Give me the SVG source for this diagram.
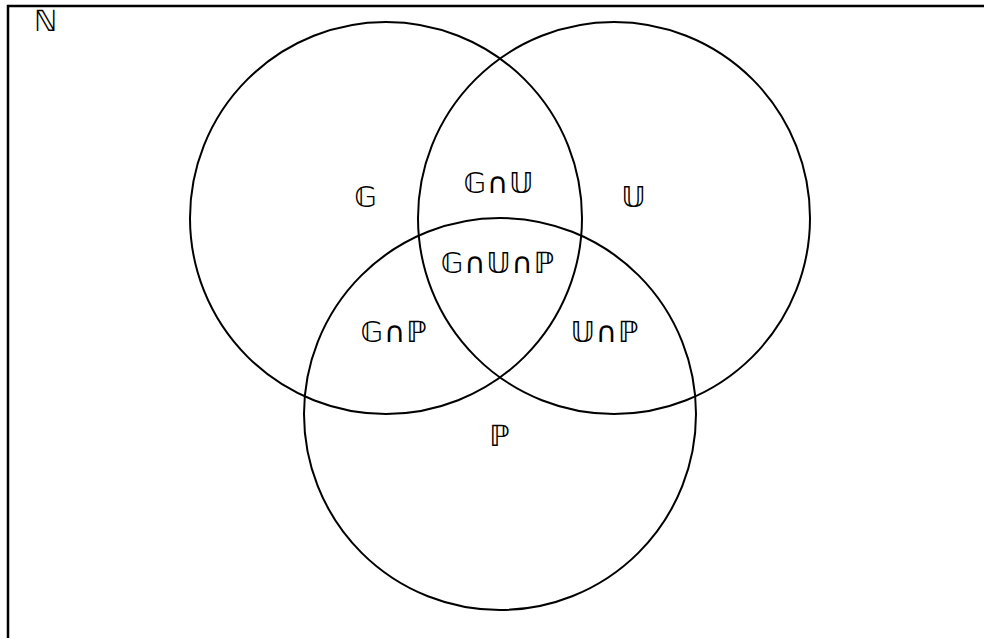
<svg xmlns="http://www.w3.org/2000/svg" width="984" height="638" viewBox="0 0 984 638">
<style>
.c{fill:none;stroke:#000;stroke-width:2}
.t{font-family:"DejaVu Sans",sans-serif;font-size:29px;fill:#000;text-anchor:middle;letter-spacing:1px}
</style>
<rect x="0" y="0" width="984" height="638" fill="#fff"/>
<rect x="8" y="6" width="1000" height="660" fill="none" stroke="#000" stroke-width="2.5"/>
<g id="setG"><circle class="c" cx="386" cy="218" r="196"/></g>
<g id="setU"><circle class="c" cx="614" cy="218" r="196"/></g>
<g id="setP"><circle class="c" cx="500" cy="414" r="196"/></g>
<g id="labels">
<text class="t" x="46" y="31">ℕ</text>
<text class="t" x="366" y="207">𝔾</text>
<text class="t" x="634" y="207">𝕌</text>
<text class="t" x="499" y="193">𝔾∩𝕌</text>
<text class="t" x="498" y="273">𝔾∩𝕌∩ℙ</text>
<text class="t" x="394" y="342">𝔾∩ℙ</text>
<text class="t" x="605" y="342">𝕌∩ℙ</text>
<text class="t" x="500" y="446">ℙ</text>
</g>
</svg>
